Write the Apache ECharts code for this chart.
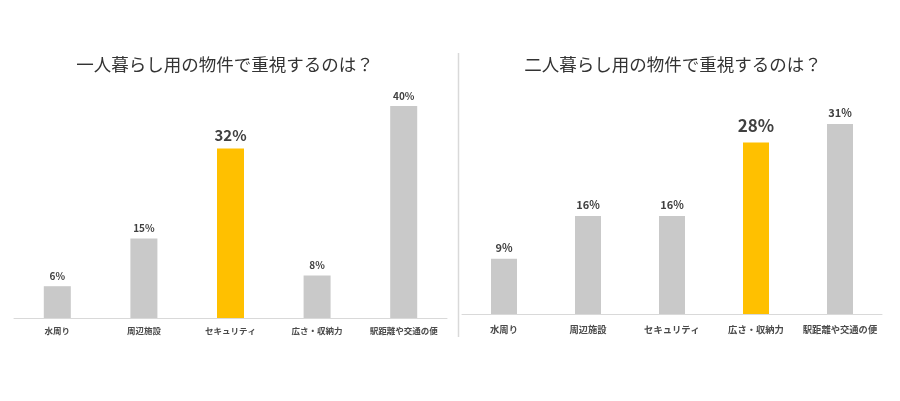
<!DOCTYPE html>
<html>
<head>
<meta charset="utf-8">
<script src="https://cdn.jsdelivr.net/npm/echarts@6/dist/echarts.min.js"></script>
<style>html,body{margin:0;padding:0;background:#fff;}#c{width:900px;height:401px;}</style>
</head>
<body>
<div id="c"></div>
<script>
const titleSingle = '一人暮らし用の物件で重視するのは？';
const titlePair = '二人暮らし用の物件で重視するのは？';
const categories = ['水周り', '周辺施設', 'セキュリティ', '広さ・収納力', '駅距離や交通の便'];
const singleValues = [6, 15, 32, 8, 40];
const pairValues = [9, 16, 16, 28, 31];
const singleHighlight = 2;
const pairHighlight = 3;

const GRAY = '#c9c9c9', YELLOW = '#ffc000', TXT = '#404040';
const FONT = '"Noto Sans CJK JP", "Noto Sans", sans-serif';

function build(values, hi, hiSize, hiDist) {
  return values.map((v, i) => i === hi ? {
    value: v,
    itemStyle: { color: YELLOW },
    label: { fontSize: hiSize, distance: hiDist }
  } : v);
}

const chart = echarts.init(document.getElementById('c'), null, { renderer: 'canvas' });
chart.setOption({
  animation: false,
  backgroundColor: '#fff',
  textStyle: { fontFamily: FONT },
  title: [
    { text: titleSingle, left: 220, top: 51, textAlign: 'center',
      textStyle: { fontSize: 17.5, fontWeight: 'normal', color: '#333', fontFamily: FONT } },
    { text: titlePair, left: 668, top: 51, textAlign: 'center',
      textStyle: { fontSize: 17.5, fontWeight: 'normal', color: '#333', fontFamily: FONT } }
  ],
  graphic: [{
    type: 'line', shape: { x1: 458.5, y1: 53, x2: 458.5, y2: 337 },
    style: { stroke: '#d9d9d9', lineWidth: 1.5 }
  }],
  grid: [
    { left: 14, right: 453, top: 106, bottom: 83 },
    { left: 462, right: 18, top: 124, bottom: 87 }
  ],
  xAxis: [0, 1].map(g => ({
    type: 'category', gridIndex: g, data: categories,
    axisLine: { lineStyle: { color: '#d9d9d9' } },
    axisTick: { show: false },
    axisLabel: { color: '#4a4a4a', fontSize: g === 0 ? 8.5 : 9.3, fontWeight: 'bold', margin: g === 0 ? 8.5 : 11, interval: 0, fontFamily: FONT }
  })),
  yAxis: [
    { type: 'value', gridIndex: 0, min: 0, max: 40, show: false, splitLine: { show: false } },
    { type: 'value', gridIndex: 1, min: 0, max: 31, show: false, splitLine: { show: false } }
  ],
  series: [
    { type: 'bar', xAxisIndex: 0, yAxisIndex: 0, barWidth: 27, data: build(singleValues, singleHighlight, 15, 6),
      itemStyle: { color: GRAY },
      label: { show: true, position: 'top', distance: 5, formatter: '{c}%', color: TXT, fontSize: 10, fontWeight: 'bold', fontFamily: FONT } },
    { type: 'bar', xAxisIndex: 1, yAxisIndex: 1, barWidth: 26, data: build(pairValues, pairHighlight, 17, 8),
      itemStyle: { color: GRAY },
      label: { show: true, position: 'top', distance: 5.5, formatter: '{c}%', color: TXT, fontSize: 11, fontWeight: 'bold', fontFamily: FONT } }
  ]
});
</script>
</body>
</html>
